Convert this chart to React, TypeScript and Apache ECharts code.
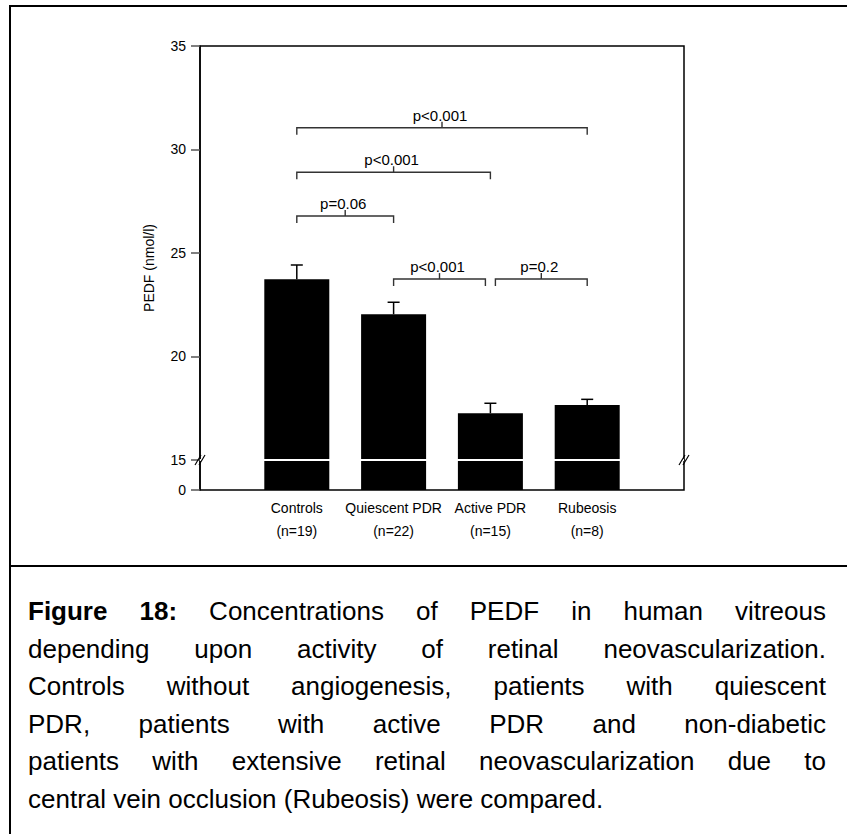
import React, { useEffect, useRef } from "react";
import * as echarts from "echarts";

// ---------- data ----------
const categories = ["Controls", "Quiescent PDR", "Active PDR", "Rubeosis"];
const groupSizes = ["(n=19)", "(n=22)", "(n=15)", "(n=8)"];
const meanValues = [23.73, 22.04, 17.26, 17.66];
const seValues = [0.69, 0.58, 0.48, 0.27];
const yTickValues = [0, 15, 20, 25, 30, 35];
const bracketFrom = [0, 0, 0, 1, 2];
const bracketTo = [3, 2, 1, 2, 3];
const bracketLevel = [31.05, 28.9, 26.79, 23.74, 23.74];
const bracketLabel = ["p<0.001", "p<0.001", "p=0.06", "p<0.001", "p=0.2"];
const captionBold = "Figure 18:";
const captionLines = [
  "Concentrations of PEDF in human vitreous",
  "depending upon activity of retinal neovascularization.",
  "Controls without angiogenesis, patients with quiescent",
  "PDR, patients with active PDR and non-diabetic",
  "patients with extensive retinal neovascularization due to",
  "central vein occlusion (Rubeosis) were compared.",
];

// ---------- layout ----------
const W = 847;
const H = 834;
const FONT = '"Liberation Sans", Arial, sans-serif';
const GRID_L = 200;
const GRID_T = 46;
const GRID_R = 684;
const GRID_B = 490;
const BREAK_AT = 15; // axis broken between 0 and 15
const AXIS_MAX = 35 - BREAK_AT;
const AXIS_MIN = -1.45; // position of "0" below the break
const toAxis = (v: number) => (v < BREAK_AT ? AXIS_MIN : v - BREAK_AT);
const tickPositions = yTickValues.map(toAxis);

const CAP_LEFT = 28;
const CAP_RIGHT = 826;
const CAP_Y0 = 611;
const CAP_STEP = 37.6;
const CAP_SIZE = 26;

function buildCaption(): any[] {
  const canvas = document.createElement("canvas");
  const ctx = canvas.getContext("2d") as CanvasRenderingContext2D;
  const out: any[] = [];
  captionLines.forEach((line, li) => {
    const words: { t: string; b: boolean }[] = [];
    if (li === 0) captionBold.split(" ").forEach((t) => words.push({ t, b: true }));
    line.split(" ").forEach((t) => words.push({ t, b: false }));
    const widths = words.map((w) => {
      ctx.font = `${w.b ? "bold " : ""}${CAP_SIZE}px ${FONT}`;
      return ctx.measureText(w.t).width;
    });
    ctx.font = `${CAP_SIZE}px ${FONT}`;
    const spaceW = ctx.measureText(" ").width;
    const total = widths.reduce((a, b) => a + b, 0);
    const last = li === captionLines.length - 1;
    const gap = last ? spaceW : (CAP_RIGHT - CAP_LEFT - total) / (words.length - 1);
    let x = CAP_LEFT;
    const y = CAP_Y0 + li * CAP_STEP;
    words.forEach((w, i) => {
      out.push({
        type: "text",
        x,
        y,
        style: {
          text: w.t,
          fill: "#000",
          fontSize: CAP_SIZE,
          fontWeight: w.b ? "bold" : "normal",
          fontFamily: FONT,
          align: "left",
          verticalAlign: "middle",
        },
      });
      x += widths[i] + gap;
    });
  });
  return out;
}

function breakMarks(x: number, y: number): any[] {
  return [-2, 2].map((dx) => ({
    type: "line",
    shape: { x1: x + dx - 3, y1: y + 5, x2: x + dx + 3, y2: y - 5 },
    style: { stroke: "#000", lineWidth: 1.2 },
    z: 100,
  }));
}

export default function App() {
  const ref = useRef<HTMLDivElement>(null);
  useEffect(() => {
    document.body.style.margin = "0";
    if (!ref.current) return;
    const chart = echarts.init(ref.current, null, { renderer: "svg" });

    const xData = ["", ...categories.map((c, i) => `${c}\n${groupSizes[i]}`), ""];
    const baseData = [null, ...categories.map(() => AXIS_MIN), null];
    const topData = [null, ...meanValues.map((v) => v - BREAK_AT), null];
    const errData = meanValues.map((v, i) => [i + 1, v - BREAK_AT, v + seValues[i] - BREAK_AT]);
    const brData = bracketFrom.map((f, i) => [f + 1, bracketTo[i] + 1, bracketLevel[i] - BREAK_AT, i]);

    const breakY = GRID_T + ((AXIS_MAX - 0) / (AXIS_MAX - AXIS_MIN)) * (GRID_B - GRID_T);

    chart.setOption({
      animation: false,
      grid: {
        left: GRID_L,
        top: GRID_T,
        right: W - GRID_R,
        bottom: H - GRID_B,
        show: true,
        borderColor: "#000",
        borderWidth: 1.5,
      },
      xAxis: {
        type: "category",
        data: xData,
        boundaryGap: false,
        axisLine: { lineStyle: { color: "#000", width: 1.5 } },
        axisTick: { show: false },
        axisLabel: {
          color: "#000",
          fontSize: 14,
          fontFamily: FONT,
          lineHeight: 23,
          margin: 6,
          interval: 0,
        },
        splitLine: { show: false },
      },
      yAxis: {
        type: "value",
        min: AXIS_MIN,
        max: AXIS_MAX,
        name: "PEDF (nmol/l)",
        nameLocation: "middle",
        nameGap: 44,
        nameTextStyle: { color: "#000", fontSize: 14, fontFamily: FONT },
        axisLine: { show: true, lineStyle: { color: "#000", width: 1.5 } },
        axisTick: {
          show: true,
          length: 9,
          lineStyle: { color: "#555", width: 1.5 },
          customValues: tickPositions,
        },
        axisLabel: {
          color: "#000",
          fontSize: 14,
          fontFamily: FONT,
          margin: 14,
          customValues: tickPositions,
          formatter: (v: number) => {
            let best = 0;
            tickPositions.forEach((p, i) => {
              if (Math.abs(p - v) < Math.abs(tickPositions[best] - v)) best = i;
            });
            return String(yTickValues[best]);
          },
        },
        splitLine: { show: false },
      },
      series: [
        {
          type: "bar",
          stack: "pedf",
          data: baseData,
          barWidth: 65,
          itemStyle: { color: "#000" },
        },
        {
          type: "bar",
          stack: "pedf",
          data: topData,
          barWidth: 65,
          itemStyle: { color: "#000" },
          markLine: {
            silent: true,
            symbol: ["none", "none"],
            label: { show: false },
            lineStyle: { color: "#fff", width: 2, type: "solid" },
            data: [{ yAxis: 0 }],
            z: 10,
          },
        },
        {
          type: "custom",
          data: errData,
          encode: { x: 0, y: [1, 2] },
          z: 5,
          clip: false,
          renderItem: (params: any, api: any) => {
            const x = api.value(0);
            const lo = api.coord([x, api.value(1)]);
            const hi = api.coord([x, api.value(2)]);
            return {
              type: "group",
              children: [
                {
                  type: "line",
                  shape: { x1: lo[0], y1: lo[1], x2: hi[0], y2: hi[1] },
                  style: { stroke: "#000", lineWidth: 1.5 },
                },
                {
                  type: "line",
                  shape: { x1: hi[0] - 6, y1: hi[1], x2: hi[0] + 6, y2: hi[1] },
                  style: { stroke: "#000", lineWidth: 1.5 },
                },
              ],
            };
          },
        },
        {
          type: "custom",
          data: brData,
          encode: { x: [0, 1], y: 2 },
          z: 5,
          clip: false,
          renderItem: (params: any, api: any) => {
            const f = api.value(0);
            const t = api.value(1);
            const lvl = api.value(2);
            const idx = api.value(3);
            const p1 = api.coord([f, lvl]);
            const p2 = api.coord([t, lvl]);
            // inset ends that meet another bracket at the same level
            let insetL = 0;
            let insetR = 0;
            bracketFrom.forEach((bf, j) => {
              if (j === idx || Math.abs(bracketLevel[j] - bracketLevel[idx]) > 0.01) return;
              if (bf + 1 === t) insetR = 5;
              if (bracketTo[j] + 1 === f) insetL = 5;
            });
            const x1 = p1[0] + insetL;
            const x2 = p2[0] - insetR;
            const y = p1[1];
            const cx = (x1 + x2) / 2;
            const st = { stroke: "#333", lineWidth: 1.4 };
            return {
              type: "group",
              children: [
                { type: "polyline", shape: { points: [[x1, y + 7], [x1, y], [x2, y], [x2, y + 7]] }, style: { ...st, fill: "none" } },
                { type: "line", shape: { x1: cx, y1: y, x2: cx, y2: y - 6 }, style: st },
                {
                  type: "text",
                  x: cx - 2,
                  y: y - 5,
                  style: {
                    text: bracketLabel[idx],
                    fill: "#000",
                    fontSize: 15,
                    fontFamily: FONT,
                    align: "center",
                    verticalAlign: "bottom",
                  },
                },
              ],
            };
          },
        },
      ],
      graphic: [
        {
          type: "rect",
          shape: { x: 10, y: 6, width: 900, height: 900 },
          style: { stroke: "#000", lineWidth: 2, fill: "none" },
          silent: true,
        },
        {
          type: "line",
          shape: { x1: 10, y1: 566, x2: W + 10, y2: 566 },
          style: { stroke: "#000", lineWidth: 2 },
          silent: true,
        },
        ...breakMarks(GRID_L, breakY),
        ...breakMarks(GRID_R, breakY),
        ...buildCaption(),
      ],
    });
    return () => chart.dispose();
  }, []);
  return <div ref={ref} style={{ width: W, height: H }} />;
}
